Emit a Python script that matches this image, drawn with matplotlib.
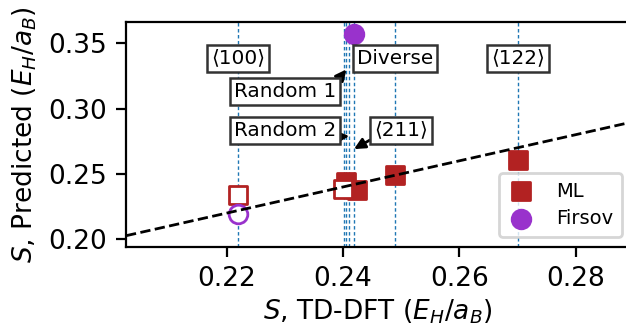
import matplotlib
matplotlib.use("Agg")
import matplotlib.pyplot as plt

# Reference structures (vertical guide lines), in S TD-DFT units
guide_x = [0.2220, 0.2402, 0.2406, 0.2411, 0.2419, 0.2489, 0.2701]

# Labels sitting on their guide line
boxed_labels = ["⟨100⟩", "Diverse", "⟨122⟩"]
boxed_x = [0.2220, 0.2489, 0.2701]

# Labels pointing to their guide line with an arrow
arrow_labels = ["Random 1", "Random 2", "⟨211⟩"]
arrow_x = [0.2406, 0.2411, 0.2419]
arrow_y = [0.3300, 0.2790, 0.2690]

# ML predictions (filled and open markers)
ml_x = [0.2406, 0.2424, 0.2489, 0.2701]
ml_y = [0.2440, 0.2380, 0.2494, 0.2603]
ml_open_x = [0.2220, 0.2400]
ml_open_y = [0.2340, 0.2386]

# Firsov model (filled and open markers)
firsov_x = [0.2419]
firsov_y = [0.3571]
firsov_open_x = [0.2220]
firsov_open_y = [0.2195]

xticks = [0.22, 0.24, 0.26, 0.28]
yticks = [0.20, 0.25, 0.30, 0.35]

ml_color = "#b22222"
firsov_color = "#9932cc"

fig = plt.figure(figsize=(3.13, 1.63), dpi=200)
ax = fig.add_axes([0.2013, 0.2433, 0.8035, 0.6901])

xlim = (0.2027, 0.2892)
ylim = (0.1943, 0.3665)

for gx in guide_x:
    ax.axvline(gx, color="#1f77b4", lw=0.5, ls=(0, (2.5, 1.8)), zorder=1)

ax.scatter(ml_x, ml_y, marker="s", s=38, color=ml_color, zorder=3, label="ML")
ax.scatter(firsov_x, firsov_y, marker="o", s=45, color=firsov_color, zorder=3,
           label="Firsov")
ax.scatter(ml_open_x, ml_open_y, marker="s", s=38, facecolor="white",
           edgecolor=ml_color, linewidth=1.0, zorder=4)
ax.scatter(firsov_open_x, firsov_open_y, marker="o", s=45, facecolor="white",
           edgecolor=firsov_color, linewidth=1.0, zorder=4)

# parity line
ax.plot(xlim, xlim, "k--", lw=1.0, zorder=5)

fs = 7.2
box = dict(boxstyle="square,pad=0.2", fc="white", ec="#333333", lw=0.9)
for lab, bx in zip(boxed_labels, boxed_x):
    ax.text(bx, 0.3386, lab, ha="center", va="center", fontsize=fs,
            bbox=box, zorder=6)

text_pos = [(0.2301, 0.3131), (0.2301, 0.2833), (0.2500, 0.2836)]
rel = [(1.0, 1.0), (1.0, 0.15), (0.0, 0.1)]
for lab, tx, ty, pos, rp in zip(arrow_labels, arrow_x, arrow_y, text_pos, rel):
    ax.annotate(lab, xy=(tx, ty), xytext=pos, ha="center", va="center",
                fontsize=fs, bbox=box, zorder=6,
                arrowprops=dict(arrowstyle="-|>,head_length=0.45,head_width=0.22",
                                color="k", lw=1.0, relpos=rp,
                                shrinkA=0, shrinkB=0))

ax.set_xlim(*xlim)
ax.set_ylim(*ylim)
ax.set_xticks(xticks)
ax.set_yticks(yticks)
ax.set_xticklabels([f"{v:.2f}" for v in xticks])
ax.set_yticklabels([f"{v:.2f}" for v in yticks])
ax.tick_params(labelsize=9.5)
ax.set_xlabel(r"$S$, TD-DFT ($E_H/a_B$)", fontsize=9.5, labelpad=2)
ax.set_ylabel(r"$S$, Predicted ($E_H/a_B$)", fontsize=9.5, labelpad=3)

ax.legend(loc="lower right", fontsize=7, borderpad=0.45, handlelength=1.4,
          handletextpad=1.1, borderaxespad=0, labelspacing=0.45,
          bbox_to_anchor=(0.986, 0.043))

fig.savefig("out.png", dpi=200)
